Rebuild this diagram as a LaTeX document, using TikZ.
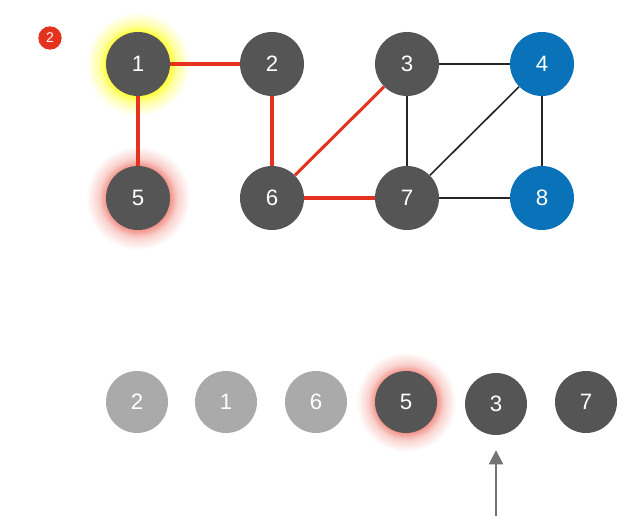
\documentclass[tikz,border=0pt]{standalone}
\usepackage{fontspec}
\setmainfont{Liberation Sans}
\usetikzlibrary{arrows.meta, positioning, backgrounds}

\definecolor{vdark}{HTML}{555555}
\definecolor{vblue}{HTML}{0A72B8}
\definecolor{vlight}{HTML}{AAAAAA}
\definecolor{vred}{HTML}{E5321F}

% soft halo around highlighted vertices (path edge = 25bp)
\pgfdeclareradialshading{glowyellow}{\pgfpoint{0bp}{0bp}}{%
  color(0bp)=(yellow!80); color(15bp)=(yellow!80); color(19bp)=(yellow!35); color(25bp)=(white); color(50bp)=(white)}
\pgfdeclareradialshading{glowred}{\pgfpoint{0bp}{0bp}}{%
  color(0bp)=(vred!55); color(15bp)=(vred!55); color(19bp)=(vred!22); color(25bp)=(white); color(50bp)=(white)}

\begin{document}
\begin{tikzpicture}[
    x=0.03cm, y=-0.03cm,
    % --- BASE STYLES ---
    vtx/.style={circle, minimum size=1.92cm, inner sep=0pt, text=white, font=\fontsize{19}{22}\selectfont},
    darkvtx/.style={vtx, fill=vdark},
    bluevtx/.style={vtx, fill=vblue},
    seqdone/.style={vtx, fill=vlight, minimum size=1.86cm},
    seqvtx/.style={vtx, fill=vdark, minimum size=1.86cm},
    path/.style={draw=vred, line width=2.6pt},
    link/.style={draw=black!85, line width=1.4pt},
    pointer/.style={draw=black!55, line width=1.8pt, -{Triangle[length=12pt, width=12pt]}},
    badge/.style={circle, fill=vred, minimum size=0.7cm, inner sep=0pt, text=white, font=\fontsize{12}{13}\selectfont}
]
\useasboundingbox (0,0) rectangle (635,531);

% ==========================================
% STEP BADGE
% ==========================================
\node[badge] (step_no) at (50,38) {2};

% ==========================================
% GRAPH
% ==========================================
\node[darkvtx] (v1) at (138,64) {1};
\node[darkvtx] (v2) at (272,64) {2};
\node[darkvtx] (v3) at (407,64) {3};
\node[bluevtx] (v4) at (542,64) {4};
\node[darkvtx] (v5) at (138,198) {5};
\node[darkvtx] (v6) at (272,198) {6};
\node[darkvtx] (v7) at (407,198) {7};
\node[bluevtx] (v8) at (542,198) {8};

% visited edges
\foreach \a/\b in {v1/v2, v1/v5, v2/v6, v6/v3, v6/v7} {
    \draw[path] (\a) -- (\b);
}
% other edges
\foreach \a/\b in {v3/v4, v3/v7, v4/v7, v4/v8, v7/v8} {
    \draw[link] (\a) -- (\b);
}

% ==========================================
% ORDER ROW
% ==========================================
\node[seqdone] (s2) at (137,402) {2};
\node[seqdone] (s1) at (226,402) {1};
\node[seqdone] (s6) at (316,402) {6};
\node[seqvtx] (s5) at (406,402) {5};
\node[seqvtx] (s3) at (496,404) {3};
\node[seqvtx] (s7) at (586,402) {7};

\coordinate (ptr_tail) at (496,516);
\draw[pointer] (ptr_tail) -- ([yshift=-0.45cm]s3.south);

% glows
\begin{pgfonlayer}{background}
    \shade[shading=glowyellow] (v1) circle (52);
    \shade[shading=glowred] (v5) circle (52);
    \shade[shading=glowred] (s5) circle (50);
\end{pgfonlayer}

\end{tikzpicture}
\end{document}
